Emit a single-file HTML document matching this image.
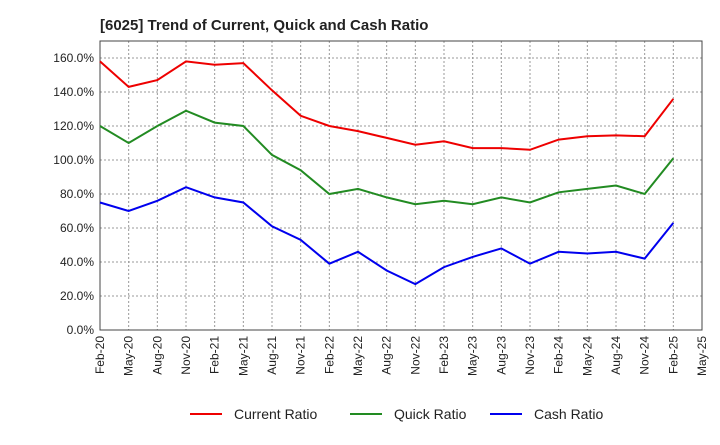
<!DOCTYPE html>
<html><head><meta charset="utf-8"><style>
body{margin:0;background:#fff;font-family:"Liberation Sans",sans-serif}
</style></head><body>
<svg id="c" width="720" height="440" xmlns="http://www.w3.org/2000/svg">
<text x="100" y="30" font-size="15" font-weight="bold" fill="#222">[6025]  Trend of Current, Quick and Cash Ratio</text>
</svg>
<script>
const xLabels=["Feb-20","May-20","Aug-20","Nov-20","Feb-21","May-21","Aug-21","Nov-21","Feb-22","May-22","Aug-22","Nov-22","Feb-23","May-23","Aug-23","Nov-23","Feb-24","May-24","Aug-24","Nov-24","Feb-25","May-25"];
const yTicks=[0,20,40,60,80,100,120,140,160];
const currentRatio=[158,143,147,158,156,157,141,126,120,117,113,109,111,107,107,106,112,114,114.5,114,136];
const quickRatio=[120,110,120,129,122,120,103,94,80,83,78,74,76,74,78,75,81,83,85,80,101];
const cashRatio=[75,70,76,84,78,75,61,53,39,46,35,27,37,43,48,39,46,45,46,42,63];
const svg=document.getElementById('c'),NS="http://www.w3.org/2000/svg";
const L=100,R=702,T=41,B=330;
const xs=i=>L+i*(R-L)/(xLabels.length-1);
const ys=v=>B-v*(B-T)/170;
function mk(t,a,p){const e=document.createElementNS(NS,t);for(const k in a)e.setAttribute(k,a[k]);(p||svg).appendChild(e);return e;}
yTicks.forEach(v=>{
 const g=mk('line',{x1:L,x2:R,y1:ys(v),y2:ys(v),stroke:'#999','stroke-dasharray':'2,2'});
 
 
 const t=mk('text',{x:L-6,y:ys(v)+4,'text-anchor':'end','font-size':12,fill:'#222'});t.textContent=v.toFixed(1)+'%';
 
 
});
xLabels.forEach((s,i)=>{
 const g=mk('line',{x1:xs(i),x2:xs(i),y1:T,y2:B,stroke:'#999','stroke-dasharray':'2,2'});
 
 
 const t=mk('text',{x:0,y:0,'text-anchor':'end','font-size':12,fill:'#222',transform:`translate(${xs(i)+4},${B+6}) rotate(-90)`});t.textContent=s;
 
 
});
const fr=mk('rect',{x:L,y:T,width:R-L,height:B-T,fill:'none',stroke:'#444'});


const series=[[currentRatio,'#e00','current-ratio-line','Current Ratio',190],[quickRatio,'#228B22','quick-ratio-line','Quick Ratio',350],[cashRatio,'#00e','cash-ratio-line','Cash Ratio',490]];
series.forEach(([d,c,n,lab,lx])=>{
 const p=mk('polyline',{points:d.map((v,i)=>xs(i)+','+ys(v)).join(' '),fill:'none',stroke:c,'stroke-width':2});
 
 
 const ll=mk('line',{x1:lx,x2:lx+32,y1:414,y2:414,stroke:c,'stroke-width':2});
 
 
 const t=mk('text',{x:lx+44,y:419,'font-size':14,fill:'#222'});t.textContent=lab;
 
 
});
</script>
</body></html>
